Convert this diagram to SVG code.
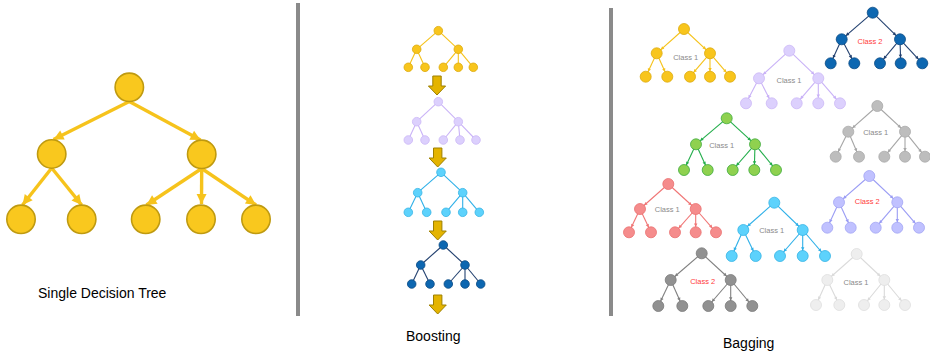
<svg xmlns="http://www.w3.org/2000/svg" width="930" height="354" viewBox="0 0 930 354">
  <style>
    .title { font-family: "Liberation Sans", Arial, sans-serif; font-size: 14px; fill: #000; }
    .lbl { font-family: "Liberation Sans", Arial, sans-serif; font-size: 7.5px; fill: #8a8a8a; text-anchor: middle; dominant-baseline: central; }
    .lbl.red { fill: #ff3b3b; }
    .sep { fill: #8a8a8a; }
    .big { fill: #f9c81e; stroke: #bf9a10; stroke-width: 1.6; }
    .bigc { stroke: #f6c31c; stroke-width: 3.4; fill: none; marker-end: url(#m-big); }
    .c { fill: none; stroke-width: 1.1; }
    /* mini-tree node colours */
    .n-yel { fill: #f8c51c; stroke: #dcaa0c; stroke-width: 0.8; }
    .n-lav { fill: #dcd0fd; stroke: #cbb8f6; stroke-width: 0.8; }
    .n-cya { fill: #5dd2fc; stroke: #36b4e4; stroke-width: 0.8; }
    .n-nav { fill: #0d67b1; stroke: #0a4a84; stroke-width: 0.8; }
    .n-grn { fill: #8fd14f; stroke: #3eab3c; stroke-width: 0.8; }
    .n-gry { fill: #bdbdbd; stroke: #a9a9a9; stroke-width: 0.8; }
    .n-pnk { fill: #f58c8c; stroke: #ea7070; stroke-width: 0.8; }
    .n-per { fill: #c0c1ff; stroke: #a2a4f4; stroke-width: 0.8; }
    .n-dgy { fill: #919191; stroke: #7b7b7b; stroke-width: 0.8; }
    .n-lgy { fill: #eeeeee; stroke: #dedede; stroke-width: 0.8; }
    /* mini-tree connector colours */
    .c-yel { stroke: #f5c21a; }
    .c-lav { stroke: #c9b2f7; }
    .c-cya { stroke: #2fb0e8; }
    .c-nav { stroke: #22406f; }
    .c-grn { stroke: #22ad4a; }
    .c-gry { stroke: #a6a6a6; }
    .c-pnk { stroke: #f07575; }
    .c-per { stroke: #9a9cf4; }
    .c-dgy { stroke: #808080; }
    .c-lgy { stroke: #dadada; }
    .bag.c-yel { marker-end: url(#m-yel); }
    .bag.c-lav { marker-end: url(#m-lav); }
    .bag.c-cya { marker-end: url(#m-cya); }
    .bag.c-nav { marker-end: url(#m-nav); }
    .bag.c-grn { marker-end: url(#m-grn); }
    .bag.c-gry { marker-end: url(#m-gry); }
    .bag.c-pnk { marker-end: url(#m-pnk); }
    .bag.c-per { marker-end: url(#m-per); }
    .bag.c-dgy { marker-end: url(#m-dgy); }
    .bag.c-lgy { marker-end: url(#m-lgy); }
    .step { fill: #e4b400; stroke: #9e8000; stroke-width: 1; }
  </style>
  <defs>
    <marker id="m-big" markerUnits="userSpaceOnUse" markerWidth="12" markerHeight="12" refX="10" refY="0" viewBox="0 -6 12 12" orient="auto" overflow="visible">
      <path d="M0,-5 L10,0 L0,5 Z" fill="#f6c31c"/>
    </marker>
    <!-- small heads stop at the rim of a r=5.5 node -->
    <marker id="m-yel" markerUnits="userSpaceOnUse" markerWidth="4" markerHeight="4" refX="8.7" refY="0" viewBox="0 -2 4 4" orient="auto" overflow="visible"><path d="M0,-1.7 L3.2,0 L0,1.7 Z" fill="#f5c21a"/></marker>
    <marker id="m-lav" markerUnits="userSpaceOnUse" markerWidth="4" markerHeight="4" refX="8.7" refY="0" viewBox="0 -2 4 4" orient="auto" overflow="visible"><path d="M0,-1.7 L3.2,0 L0,1.7 Z" fill="#c9b2f7"/></marker>
    <marker id="m-cya" markerUnits="userSpaceOnUse" markerWidth="4" markerHeight="4" refX="8.7" refY="0" viewBox="0 -2 4 4" orient="auto" overflow="visible"><path d="M0,-1.7 L3.2,0 L0,1.7 Z" fill="#2fb0e8"/></marker>
    <marker id="m-nav" markerUnits="userSpaceOnUse" markerWidth="4" markerHeight="4" refX="8.7" refY="0" viewBox="0 -2 4 4" orient="auto" overflow="visible"><path d="M0,-1.7 L3.2,0 L0,1.7 Z" fill="#22406f"/></marker>
    <marker id="m-grn" markerUnits="userSpaceOnUse" markerWidth="4" markerHeight="4" refX="8.7" refY="0" viewBox="0 -2 4 4" orient="auto" overflow="visible"><path d="M0,-1.7 L3.2,0 L0,1.7 Z" fill="#22ad4a"/></marker>
    <marker id="m-gry" markerUnits="userSpaceOnUse" markerWidth="4" markerHeight="4" refX="8.7" refY="0" viewBox="0 -2 4 4" orient="auto" overflow="visible"><path d="M0,-1.7 L3.2,0 L0,1.7 Z" fill="#a6a6a6"/></marker>
    <marker id="m-pnk" markerUnits="userSpaceOnUse" markerWidth="4" markerHeight="4" refX="8.7" refY="0" viewBox="0 -2 4 4" orient="auto" overflow="visible"><path d="M0,-1.7 L3.2,0 L0,1.7 Z" fill="#f07575"/></marker>
    <marker id="m-per" markerUnits="userSpaceOnUse" markerWidth="4" markerHeight="4" refX="8.7" refY="0" viewBox="0 -2 4 4" orient="auto" overflow="visible"><path d="M0,-1.7 L3.2,0 L0,1.7 Z" fill="#9a9cf4"/></marker>
    <marker id="m-dgy" markerUnits="userSpaceOnUse" markerWidth="4" markerHeight="4" refX="8.7" refY="0" viewBox="0 -2 4 4" orient="auto" overflow="visible"><path d="M0,-1.7 L3.2,0 L0,1.7 Z" fill="#808080"/></marker>
    <marker id="m-lgy" markerUnits="userSpaceOnUse" markerWidth="4" markerHeight="4" refX="8.7" refY="0" viewBox="0 -2 4 4" orient="auto" overflow="visible"><path d="M0,-1.7 L3.2,0 L0,1.7 Z" fill="#dadada"/></marker>
    <!-- block arrow between boosting rounds -->
    <path id="step-arrow" d="M-4.2,0 H4.2 V10 H8.6 L0,19 L-8.6,10 H-4.2 Z"/>
  </defs>

  <rect width="930" height="354" fill="#ffffff"/>

  <!-- column separators -->
  <rect class="sep" x="296" y="3" width="4" height="313"/>
  <rect class="sep" x="609" y="8" width="4" height="308"/>

  <!-- ===== connectors ===== -->
  <g id="connectors">
    <g id="single-tree-edges">
      <line class="bigc" x1="129.3" y1="101.5" x2="53.5" y2="139.5"/>
      <line class="bigc" x1="129.3" y1="101.5" x2="200.5" y2="140"/>
      <line class="bigc" x1="51.7" y1="168" x2="22.5" y2="205"/>
      <line class="bigc" x1="51.7" y1="168" x2="81.7" y2="205"/>
      <line class="bigc" x1="201.7" y1="168.5" x2="146.5" y2="205"/>
      <line class="bigc" x1="201.7" y1="168.5" x2="201.5" y2="204"/>
      <line class="bigc" x1="201.7" y1="168.5" x2="256" y2="205"/>
    </g>

    <g id="boost-edges" class="c">
      <g class="c-yel">
        <line x1="438.3" y1="30.7" x2="416.7" y2="49.3"/><line x1="438.3" y1="30.7" x2="458.3" y2="49.3"/>
        <line x1="416.7" y1="49.3" x2="408.3" y2="67.3"/><line x1="416.7" y1="49.3" x2="425" y2="67.3"/>
        <line x1="458.3" y1="49.3" x2="443.3" y2="67.3"/><line x1="458.3" y1="49.3" x2="458.3" y2="67.3"/><line x1="458.3" y1="49.3" x2="473.3" y2="67.3"/>
      </g>
      <g class="c-lav">
        <line x1="438.3" y1="101.7" x2="416.7" y2="121.7"/><line x1="438.3" y1="101.7" x2="458.3" y2="121.7"/>
        <line x1="416.7" y1="121.7" x2="408.3" y2="140"/><line x1="416.7" y1="121.7" x2="425" y2="140"/>
        <line x1="458.3" y1="121.7" x2="443.3" y2="140"/><line x1="458.3" y1="121.7" x2="460" y2="140"/><line x1="458.3" y1="121.7" x2="476" y2="140"/>
      </g>
      <g class="c-cya">
        <line x1="441" y1="172.3" x2="417.7" y2="192.7"/><line x1="441" y1="172.3" x2="462.7" y2="192.7"/>
        <line x1="417.7" y1="192.7" x2="408.3" y2="212.3"/><line x1="417.7" y1="192.7" x2="426.7" y2="212.3"/>
        <line x1="462.7" y1="192.7" x2="446" y2="212.3"/><line x1="462.7" y1="192.7" x2="462.7" y2="212.3"/><line x1="462.7" y1="192.7" x2="479.3" y2="212.3"/>
      </g>
      <g class="c-nav">
        <line x1="443.3" y1="245" x2="420.7" y2="265"/><line x1="443.3" y1="245" x2="465" y2="265"/>
        <line x1="420.7" y1="265" x2="411.7" y2="284"/><line x1="420.7" y1="265" x2="430" y2="284"/>
        <line x1="465" y1="265" x2="448.3" y2="284"/><line x1="465" y1="265" x2="465" y2="284"/><line x1="465" y1="265" x2="480.7" y2="284"/>
      </g>
    </g>

    <g id="bag-edges" class="c">
      <g>
        <line class="bag c-yel" x1="684" y1="29" x2="656.7" y2="53.3"/><line class="bag c-yel" x1="684" y1="29" x2="710" y2="53.3"/>
        <line class="bag c-yel" x1="656.7" y1="53.3" x2="645.7" y2="76.7"/><line class="bag c-yel" x1="656.7" y1="53.3" x2="667.3" y2="76.7"/>
        <line class="bag c-yel" x1="710" y1="53.3" x2="690" y2="76.7"/><line class="bag c-yel" x1="710" y1="53.3" x2="710" y2="76.7"/><line class="bag c-yel" x1="710" y1="53.3" x2="730" y2="76.7"/>
      </g>
      <g>
        <line class="bag c-lav" x1="789.3" y1="50.7" x2="759" y2="78.3"/><line class="bag c-lav" x1="789.3" y1="50.7" x2="818.3" y2="78.3"/>
        <line class="bag c-lav" x1="759" y1="78.3" x2="746" y2="103.3"/><line class="bag c-lav" x1="759" y1="78.3" x2="771.7" y2="103.3"/>
        <line class="bag c-lav" x1="818.3" y1="78.3" x2="796.7" y2="103.3"/><line class="bag c-lav" x1="818.3" y1="78.3" x2="818.3" y2="103.3"/><line class="bag c-lav" x1="818.3" y1="78.3" x2="840" y2="103.3"/>
      </g>
      <g>
        <line class="bag c-nav" x1="872.7" y1="12.7" x2="841.7" y2="39.3"/><line class="bag c-nav" x1="872.7" y1="12.7" x2="900" y2="39.3"/>
        <line class="bag c-nav" x1="841.7" y1="39.3" x2="830.7" y2="63.3"/><line class="bag c-nav" x1="841.7" y1="39.3" x2="854.3" y2="63.3"/>
        <line class="bag c-nav" x1="900" y1="39.3" x2="880" y2="63.3"/><line class="bag c-nav" x1="900" y1="39.3" x2="900.7" y2="63.3"/><line class="bag c-nav" x1="900" y1="39.3" x2="922.3" y2="63.3"/>
      </g>
      <g>
        <line class="bag c-grn" x1="726.7" y1="118.3" x2="696" y2="144.3"/><line class="bag c-grn" x1="726.7" y1="118.3" x2="755" y2="144.3"/>
        <line class="bag c-grn" x1="696" y1="144.3" x2="684" y2="170"/><line class="bag c-grn" x1="696" y1="144.3" x2="707.7" y2="170"/>
        <line class="bag c-grn" x1="755" y1="144.3" x2="732.7" y2="170"/><line class="bag c-grn" x1="755" y1="144.3" x2="754.3" y2="170"/><line class="bag c-grn" x1="755" y1="144.3" x2="776" y2="170"/>
      </g>
      <g>
        <line class="bag c-gry" x1="877.3" y1="106" x2="848.3" y2="131.7"/><line class="bag c-gry" x1="877.3" y1="106" x2="905" y2="131.7"/>
        <line class="bag c-gry" x1="848.3" y1="131.7" x2="835.7" y2="156.7"/><line class="bag c-gry" x1="848.3" y1="131.7" x2="859" y2="156.7"/>
        <line class="bag c-gry" x1="905" y1="131.7" x2="884.3" y2="156.7"/><line class="bag c-gry" x1="905" y1="131.7" x2="905" y2="156.7"/><line class="bag c-gry" x1="905" y1="131.7" x2="925" y2="156.7"/>
      </g>
      <g>
        <line class="bag c-pnk" x1="668.3" y1="184" x2="640" y2="209"/><line class="bag c-pnk" x1="668.3" y1="184" x2="695.7" y2="209"/>
        <line class="bag c-pnk" x1="640" y1="209" x2="629" y2="232.3"/><line class="bag c-pnk" x1="640" y1="209" x2="651" y2="232.3"/>
        <line class="bag c-pnk" x1="695.7" y1="209" x2="675" y2="232.3"/><line class="bag c-pnk" x1="695.7" y1="209" x2="695.7" y2="232.3"/><line class="bag c-pnk" x1="695.7" y1="209" x2="716" y2="232.3"/>
      </g>
      <g>
        <line class="bag c-cya" x1="774.3" y1="202.7" x2="743.3" y2="230"/><line class="bag c-cya" x1="774.3" y1="202.7" x2="802.7" y2="230"/>
        <line class="bag c-cya" x1="743.3" y1="230" x2="731.7" y2="256"/><line class="bag c-cya" x1="743.3" y1="230" x2="755.7" y2="256"/>
        <line class="bag c-cya" x1="802.7" y1="230" x2="780" y2="256"/><line class="bag c-cya" x1="802.7" y1="230" x2="802.7" y2="256"/><line class="bag c-cya" x1="802.7" y1="230" x2="825" y2="256"/>
      </g>
      <g>
        <line class="bag c-per" x1="869.3" y1="176" x2="839" y2="202.3"/><line class="bag c-per" x1="869.3" y1="176" x2="897.3" y2="202.3"/>
        <line class="bag c-per" x1="839" y1="202.3" x2="827.3" y2="227.7"/><line class="bag c-per" x1="839" y1="202.3" x2="850.7" y2="227.7"/>
        <line class="bag c-per" x1="897.3" y1="202.3" x2="875.7" y2="227.7"/><line class="bag c-per" x1="897.3" y1="202.3" x2="897.3" y2="227.7"/><line class="bag c-per" x1="897.3" y1="202.3" x2="919" y2="227.7"/>
      </g>
      <g>
        <line class="bag c-dgy" x1="701.7" y1="253.3" x2="670.7" y2="280"/><line class="bag c-dgy" x1="701.7" y1="253.3" x2="730.7" y2="280"/>
        <line class="bag c-dgy" x1="670.7" y1="280" x2="658.3" y2="306"/><line class="bag c-dgy" x1="670.7" y1="280" x2="682.3" y2="306"/>
        <line class="bag c-dgy" x1="730.7" y1="280" x2="708.3" y2="306"/><line class="bag c-dgy" x1="730.7" y1="280" x2="730.7" y2="306"/><line class="bag c-dgy" x1="730.7" y1="280" x2="752.3" y2="306"/>
      </g>
      <g>
        <line class="bag c-lgy" x1="856.7" y1="254" x2="827.3" y2="280"/><line class="bag c-lgy" x1="856.7" y1="254" x2="884.3" y2="280"/>
        <line class="bag c-lgy" x1="827.3" y1="280" x2="816" y2="305"/><line class="bag c-lgy" x1="827.3" y1="280" x2="839.3" y2="305"/>
        <line class="bag c-lgy" x1="884.3" y1="280" x2="864" y2="305"/><line class="bag c-lgy" x1="884.3" y1="280" x2="884.3" y2="305"/><line class="bag c-lgy" x1="884.3" y1="280" x2="905" y2="305"/>
      </g>
    </g>

    <!-- boosting round arrows -->
    <g id="boost-steps" class="step">
      <use href="#step-arrow" x="437" y="76"/>
      <use href="#step-arrow" x="437.7" y="148"/>
      <use href="#step-arrow" x="437.7" y="221"/>
      <use href="#step-arrow" x="437.7" y="295"/>
    </g>
  </g>

  <!-- ===== single decision tree ===== -->
  <g id="single-tree" class="big">
    <g id="st-root"><circle cx="129.3" cy="87.3" r="14.2"/></g>
    <g id="st-l"><circle cx="51.7" cy="154" r="14.2"/></g>
    <g id="st-r"><circle cx="201.7" cy="154.3" r="14.2"/></g>
    <g id="st-ll"><circle cx="21" cy="219.3" r="14.2"/></g>
    <g id="st-lr"><circle cx="81.7" cy="219.3" r="14.2"/></g>
    <g id="st-rl"><circle cx="145.7" cy="219.3" r="14.2"/></g>
    <g id="st-rm"><circle cx="201" cy="219.3" r="14.2"/></g>
    <g id="st-rr"><circle cx="256" cy="219.3" r="14.2"/></g>
  </g>

  <!-- ===== boosting sequence ===== -->
  <g id="boost-1" class="n-yel">
    <g id="b1-root"><circle cx="438.3" cy="30.7" r="4.3"/></g>
    <g id="b1-l"><circle cx="416.7" cy="49.3" r="4.3"/></g>
    <g id="b1-r"><circle cx="458.3" cy="49.3" r="4.3"/></g>
    <g id="b1-ll"><circle cx="408.3" cy="67.3" r="4.3"/></g>
    <g id="b1-lr"><circle cx="425" cy="67.3" r="4.3"/></g>
    <g id="b1-rl"><circle cx="443.3" cy="67.3" r="4.3"/></g>
    <g id="b1-rm"><circle cx="458.3" cy="67.3" r="4.3"/></g>
    <g id="b1-rr"><circle cx="473.3" cy="67.3" r="4.3"/></g>
  </g>
  <g id="boost-2" class="n-lav">
    <g id="b2-root"><circle cx="438.3" cy="101.7" r="4.3"/></g>
    <g id="b2-l"><circle cx="416.7" cy="121.7" r="4.3"/></g>
    <g id="b2-r"><circle cx="458.3" cy="121.7" r="4.3"/></g>
    <g id="b2-ll"><circle cx="408.3" cy="140" r="4.3"/></g>
    <g id="b2-lr"><circle cx="425" cy="140" r="4.3"/></g>
    <g id="b2-rl"><circle cx="443.3" cy="140" r="4.3"/></g>
    <g id="b2-rm"><circle cx="460" cy="140" r="4.3"/></g>
    <g id="b2-rr"><circle cx="476" cy="140" r="4.3"/></g>
  </g>
  <g id="boost-3" class="n-cya">
    <g id="b3-root"><circle cx="441" cy="172.3" r="4.3"/></g>
    <g id="b3-l"><circle cx="417.7" cy="192.7" r="4.3"/></g>
    <g id="b3-r"><circle cx="462.7" cy="192.7" r="4.3"/></g>
    <g id="b3-ll"><circle cx="408.3" cy="212.3" r="4.3"/></g>
    <g id="b3-lr"><circle cx="426.7" cy="212.3" r="4.3"/></g>
    <g id="b3-rl"><circle cx="446" cy="212.3" r="4.3"/></g>
    <g id="b3-rm"><circle cx="462.7" cy="212.3" r="4.3"/></g>
    <g id="b3-rr"><circle cx="479.3" cy="212.3" r="4.3"/></g>
  </g>
  <g id="boost-4" class="n-nav">
    <g id="b4-root"><circle cx="443.3" cy="245" r="4.3"/></g>
    <g id="b4-l"><circle cx="420.7" cy="265" r="4.3"/></g>
    <g id="b4-r"><circle cx="465" cy="265" r="4.3"/></g>
    <g id="b4-ll"><circle cx="411.7" cy="284" r="4.3"/></g>
    <g id="b4-lr"><circle cx="430" cy="284" r="4.3"/></g>
    <g id="b4-rl"><circle cx="448.3" cy="284" r="4.3"/></g>
    <g id="b4-rm"><circle cx="465" cy="284" r="4.3"/></g>
    <g id="b4-rr"><circle cx="480.7" cy="284" r="4.3"/></g>
  </g>

  <!-- ===== bagging ensemble ===== -->
  <g id="bag-yellow" class="n-yel">
    <g id="by-root"><circle cx="684" cy="29" r="5.5"/></g>
    <g id="by-l"><circle cx="656.7" cy="53.3" r="5.5"/></g>
    <g id="by-r"><circle cx="710" cy="53.3" r="5.5"/></g>
    <g id="by-ll"><circle cx="645.7" cy="76.7" r="5.5"/></g>
    <g id="by-lr"><circle cx="667.3" cy="76.7" r="5.5"/></g>
    <g id="by-rl"><circle cx="690" cy="76.7" r="5.5"/></g>
    <g id="by-rm"><circle cx="710" cy="76.7" r="5.5"/></g>
    <g id="by-rr"><circle cx="730" cy="76.7" r="5.5"/></g>
  </g>
  <g id="bag-lavender" class="n-lav">
    <g id="bl-root"><circle cx="789.3" cy="50.7" r="5.5"/></g>
    <g id="bl-l"><circle cx="759" cy="78.3" r="5.5"/></g>
    <g id="bl-r"><circle cx="818.3" cy="78.3" r="5.5"/></g>
    <g id="bl-ll"><circle cx="746" cy="103.3" r="5.5"/></g>
    <g id="bl-lr"><circle cx="771.7" cy="103.3" r="5.5"/></g>
    <g id="bl-rl"><circle cx="796.7" cy="103.3" r="5.5"/></g>
    <g id="bl-rm"><circle cx="818.3" cy="103.3" r="5.5"/></g>
    <g id="bl-rr"><circle cx="840" cy="103.3" r="5.5"/></g>
  </g>
  <g id="bag-navy" class="n-nav">
    <g id="bn-root"><circle cx="872.7" cy="12.7" r="5.5"/></g>
    <g id="bn-l"><circle cx="841.7" cy="39.3" r="5.5"/></g>
    <g id="bn-r"><circle cx="900" cy="39.3" r="5.5"/></g>
    <g id="bn-ll"><circle cx="830.7" cy="63.3" r="5.5"/></g>
    <g id="bn-lr"><circle cx="854.3" cy="63.3" r="5.5"/></g>
    <g id="bn-rl"><circle cx="880" cy="63.3" r="5.5"/></g>
    <g id="bn-rm"><circle cx="900.7" cy="63.3" r="5.5"/></g>
    <g id="bn-rr"><circle cx="922.3" cy="63.3" r="5.5"/></g>
  </g>
  <g id="bag-green" class="n-grn">
    <g id="bg-root"><circle cx="726.7" cy="118.3" r="5.5"/></g>
    <g id="bg-l"><circle cx="696" cy="144.3" r="5.5"/></g>
    <g id="bg-r"><circle cx="755" cy="144.3" r="5.5"/></g>
    <g id="bg-ll"><circle cx="684" cy="170" r="5.5"/></g>
    <g id="bg-lr"><circle cx="707.7" cy="170" r="5.5"/></g>
    <g id="bg-rl"><circle cx="732.7" cy="170" r="5.5"/></g>
    <g id="bg-rm"><circle cx="754.3" cy="170" r="5.5"/></g>
    <g id="bg-rr"><circle cx="776" cy="170" r="5.5"/></g>
  </g>
  <g id="bag-grey" class="n-gry">
    <g id="bq-root"><circle cx="877.3" cy="106" r="5.5"/></g>
    <g id="bq-l"><circle cx="848.3" cy="131.7" r="5.5"/></g>
    <g id="bq-r"><circle cx="905" cy="131.7" r="5.5"/></g>
    <g id="bq-ll"><circle cx="835.7" cy="156.7" r="5.5"/></g>
    <g id="bq-lr"><circle cx="859" cy="156.7" r="5.5"/></g>
    <g id="bq-rl"><circle cx="884.3" cy="156.7" r="5.5"/></g>
    <g id="bq-rm"><circle cx="905" cy="156.7" r="5.5"/></g>
    <g id="bq-rr"><circle cx="925" cy="156.7" r="5.5"/></g>
  </g>
  <g id="bag-pink" class="n-pnk">
    <g id="bp-root"><circle cx="668.3" cy="184" r="5.5"/></g>
    <g id="bp-l"><circle cx="640" cy="209" r="5.5"/></g>
    <g id="bp-r"><circle cx="695.7" cy="209" r="5.5"/></g>
    <g id="bp-ll"><circle cx="629" cy="232.3" r="5.5"/></g>
    <g id="bp-lr"><circle cx="651" cy="232.3" r="5.5"/></g>
    <g id="bp-rl"><circle cx="675" cy="232.3" r="5.5"/></g>
    <g id="bp-rm"><circle cx="695.7" cy="232.3" r="5.5"/></g>
    <g id="bp-rr"><circle cx="716" cy="232.3" r="5.5"/></g>
  </g>
  <g id="bag-cyan" class="n-cya">
    <g id="bc-root"><circle cx="774.3" cy="202.7" r="5.5"/></g>
    <g id="bc-l"><circle cx="743.3" cy="230" r="5.5"/></g>
    <g id="bc-r"><circle cx="802.7" cy="230" r="5.5"/></g>
    <g id="bc-ll"><circle cx="731.7" cy="256" r="5.5"/></g>
    <g id="bc-lr"><circle cx="755.7" cy="256" r="5.5"/></g>
    <g id="bc-rl"><circle cx="780" cy="256" r="5.5"/></g>
    <g id="bc-rm"><circle cx="802.7" cy="256" r="5.5"/></g>
    <g id="bc-rr"><circle cx="825" cy="256" r="5.5"/></g>
  </g>
  <g id="bag-periwinkle" class="n-per">
    <g id="bw-root"><circle cx="869.3" cy="176" r="5.5"/></g>
    <g id="bw-l"><circle cx="839" cy="202.3" r="5.5"/></g>
    <g id="bw-r"><circle cx="897.3" cy="202.3" r="5.5"/></g>
    <g id="bw-ll"><circle cx="827.3" cy="227.7" r="5.5"/></g>
    <g id="bw-lr"><circle cx="850.7" cy="227.7" r="5.5"/></g>
    <g id="bw-rl"><circle cx="875.7" cy="227.7" r="5.5"/></g>
    <g id="bw-rm"><circle cx="897.3" cy="227.7" r="5.5"/></g>
    <g id="bw-rr"><circle cx="919" cy="227.7" r="5.5"/></g>
  </g>
  <g id="bag-darkgrey" class="n-dgy">
    <g id="bd-root"><circle cx="701.7" cy="253.3" r="5.5"/></g>
    <g id="bd-l"><circle cx="670.7" cy="280" r="5.5"/></g>
    <g id="bd-r"><circle cx="730.7" cy="280" r="5.5"/></g>
    <g id="bd-ll"><circle cx="658.3" cy="306" r="5.5"/></g>
    <g id="bd-lr"><circle cx="682.3" cy="306" r="5.5"/></g>
    <g id="bd-rl"><circle cx="708.3" cy="306" r="5.5"/></g>
    <g id="bd-rm"><circle cx="730.7" cy="306" r="5.5"/></g>
    <g id="bd-rr"><circle cx="752.3" cy="306" r="5.5"/></g>
  </g>
  <g id="bag-lightgrey" class="n-lgy">
    <g id="bk-root"><circle cx="856.7" cy="254" r="5.5"/></g>
    <g id="bk-l"><circle cx="827.3" cy="280" r="5.5"/></g>
    <g id="bk-r"><circle cx="884.3" cy="280" r="5.5"/></g>
    <g id="bk-ll"><circle cx="816" cy="305" r="5.5"/></g>
    <g id="bk-lr"><circle cx="839.3" cy="305" r="5.5"/></g>
    <g id="bk-rl"><circle cx="864" cy="305" r="5.5"/></g>
    <g id="bk-rm"><circle cx="884.3" cy="305" r="5.5"/></g>
    <g id="bk-rr"><circle cx="905" cy="305" r="5.5"/></g>
  </g>

  <!-- class votes -->
  <g id="votes">
    <text class="lbl" x="685.7" y="57.3">Class 1</text>
    <text class="lbl" x="789" y="80.7">Class 1</text>
    <text class="lbl red" x="870" y="41.7">Class 2</text>
    <text class="lbl" x="721.7" y="145.7">Class 1</text>
    <text class="lbl" x="875.7" y="132.7">Class 1</text>
    <text class="lbl" x="667.3" y="209">Class 1</text>
    <text class="lbl" x="771.7" y="230.7">Class 1</text>
    <text class="lbl red" x="867.3" y="201.7">Class 2</text>
    <text class="lbl red" x="702.7" y="281.7">Class 2</text>
    <text class="lbl" x="856" y="282.7">Class 1</text>
  </g>

  <!-- column titles -->
  <text class="title" x="38" y="298">Single Decision Tree</text>
  <text class="title" x="406" y="341">Boosting</text>
  <text class="title" x="723" y="348">Bagging</text>
</svg>
